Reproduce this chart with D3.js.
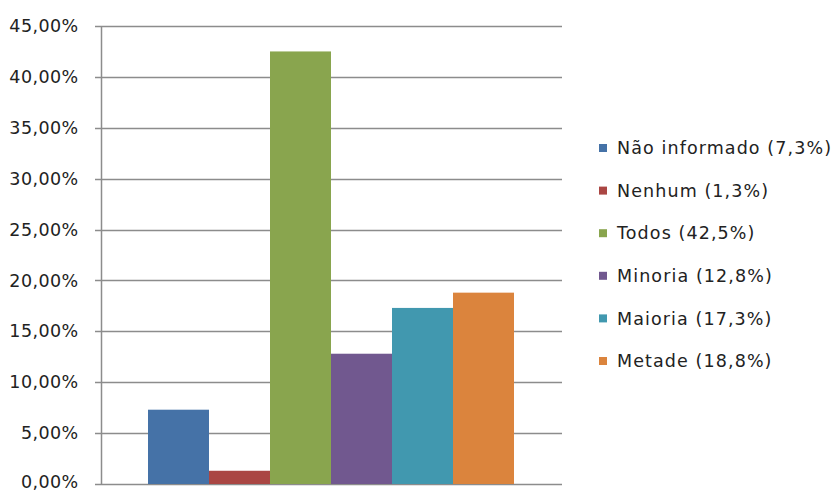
<!DOCTYPE html>
<html>
<head>
<meta charset="utf-8">
<script src="https://cdn.jsdelivr.net/npm/d3@7/dist/d3.min.js"></script>
<style>
  html, body { margin: 0; padding: 0; background: #fff; }
  svg { display: block; }
  text { font-family: "DejaVu Sans", Verdana, sans-serif; fill: #222; }
</style>
</head>
<body>
<svg id="chart" width="833" height="492"></svg>
<script>
// Series: one group with six answers
const seriesNames = ["Não informado", "Nenhum", "Todos", "Minoria", "Maioria", "Metade"];
const seriesValues = [7.3, 1.3, 42.5, 12.8, 17.3, 18.8];
const seriesColors = ["#4572A7", "#AA4643", "#89A54E", "#71588F", "#4198AF", "#DB843D"];
const yTicks = [0, 5, 10, 15, 20, 25, 30, 35, 40, 45];

const svg = d3.select("#chart");
const plot = { left: 101, right: 562, top: 26, bottom: 484 };

const y = d3.scaleLinear().domain([0, 45]).range([plot.bottom, plot.top]);
const x = d3.scaleBand().domain(seriesNames).range([148, 514]).padding(0);

const fmt = v => v.toFixed(2).replace(".", ",") + "%";

// Horizontal gridlines
svg.append("g")
  .selectAll("line")
  .data(yTicks)
  .join("line")
  .attr("x1", plot.left - 6)
  .attr("x2", plot.right)
  .attr("y1", d => Math.round(y(d)) + 0.5)
  .attr("y2", d => Math.round(y(d)) + 0.5)
  .attr("stroke", "#8c8c8c")
  .attr("stroke-width", 1.5);

// Bars
svg.append("g")
  .selectAll("rect")
  .data(seriesValues)
  .join("rect")
  .attr("x", (d, i) => x(seriesNames[i]))
  .attr("width", x.bandwidth())
  .attr("y", d => y(d))
  .attr("height", d => y(0) - y(d))
  .attr("fill", (d, i) => seriesColors[i]);

// Y axis
const yAxis = d3.axisLeft(y).tickValues(yTicks).tickFormat(fmt).tickSize(6).tickPadding(17);
const ga = svg.append("g").attr("transform", `translate(${plot.left + 0.5},0)`).call(yAxis);
ga.select(".domain").attr("stroke", "#8c8c8c").attr("stroke-width", 1.5).attr("d", `M0,${plot.top}V${plot.bottom + 0.5}`);
ga.selectAll(".tick line").remove();
ga.selectAll(".tick text")
  .attr("font-size", 17.5)
  .attr("letter-spacing", 0.4)
  .attr("fill", "#222")
  .attr("dy", d => d === 0 ? "0.2em" : "0.32em")
  .style("font-family", "\"DejaVu Sans\", Verdana, sans-serif");

// Legend
const legend = svg.append("g").attr("transform", "translate(599,148)");
const rows = legend.selectAll("g")
  .data(seriesNames)
  .join("g")
  .attr("transform", (d, i) => `translate(0,${i * 42.6})`);
rows.append("rect")
  .attr("x", 0).attr("y", -4)
  .attr("width", 8).attr("height", 8)
  .attr("fill", (d, i) => seriesColors[i]);
rows.append("text")
  .attr("x", 18)
  .attr("dy", "0.35em")
  .attr("font-size", 17.5)
  .attr("letter-spacing", 1.1)
  .text((d, i) => `${d} (${seriesValues[i].toFixed(1).replace(".", ",")}%)`);
</script>
</body>
</html>
